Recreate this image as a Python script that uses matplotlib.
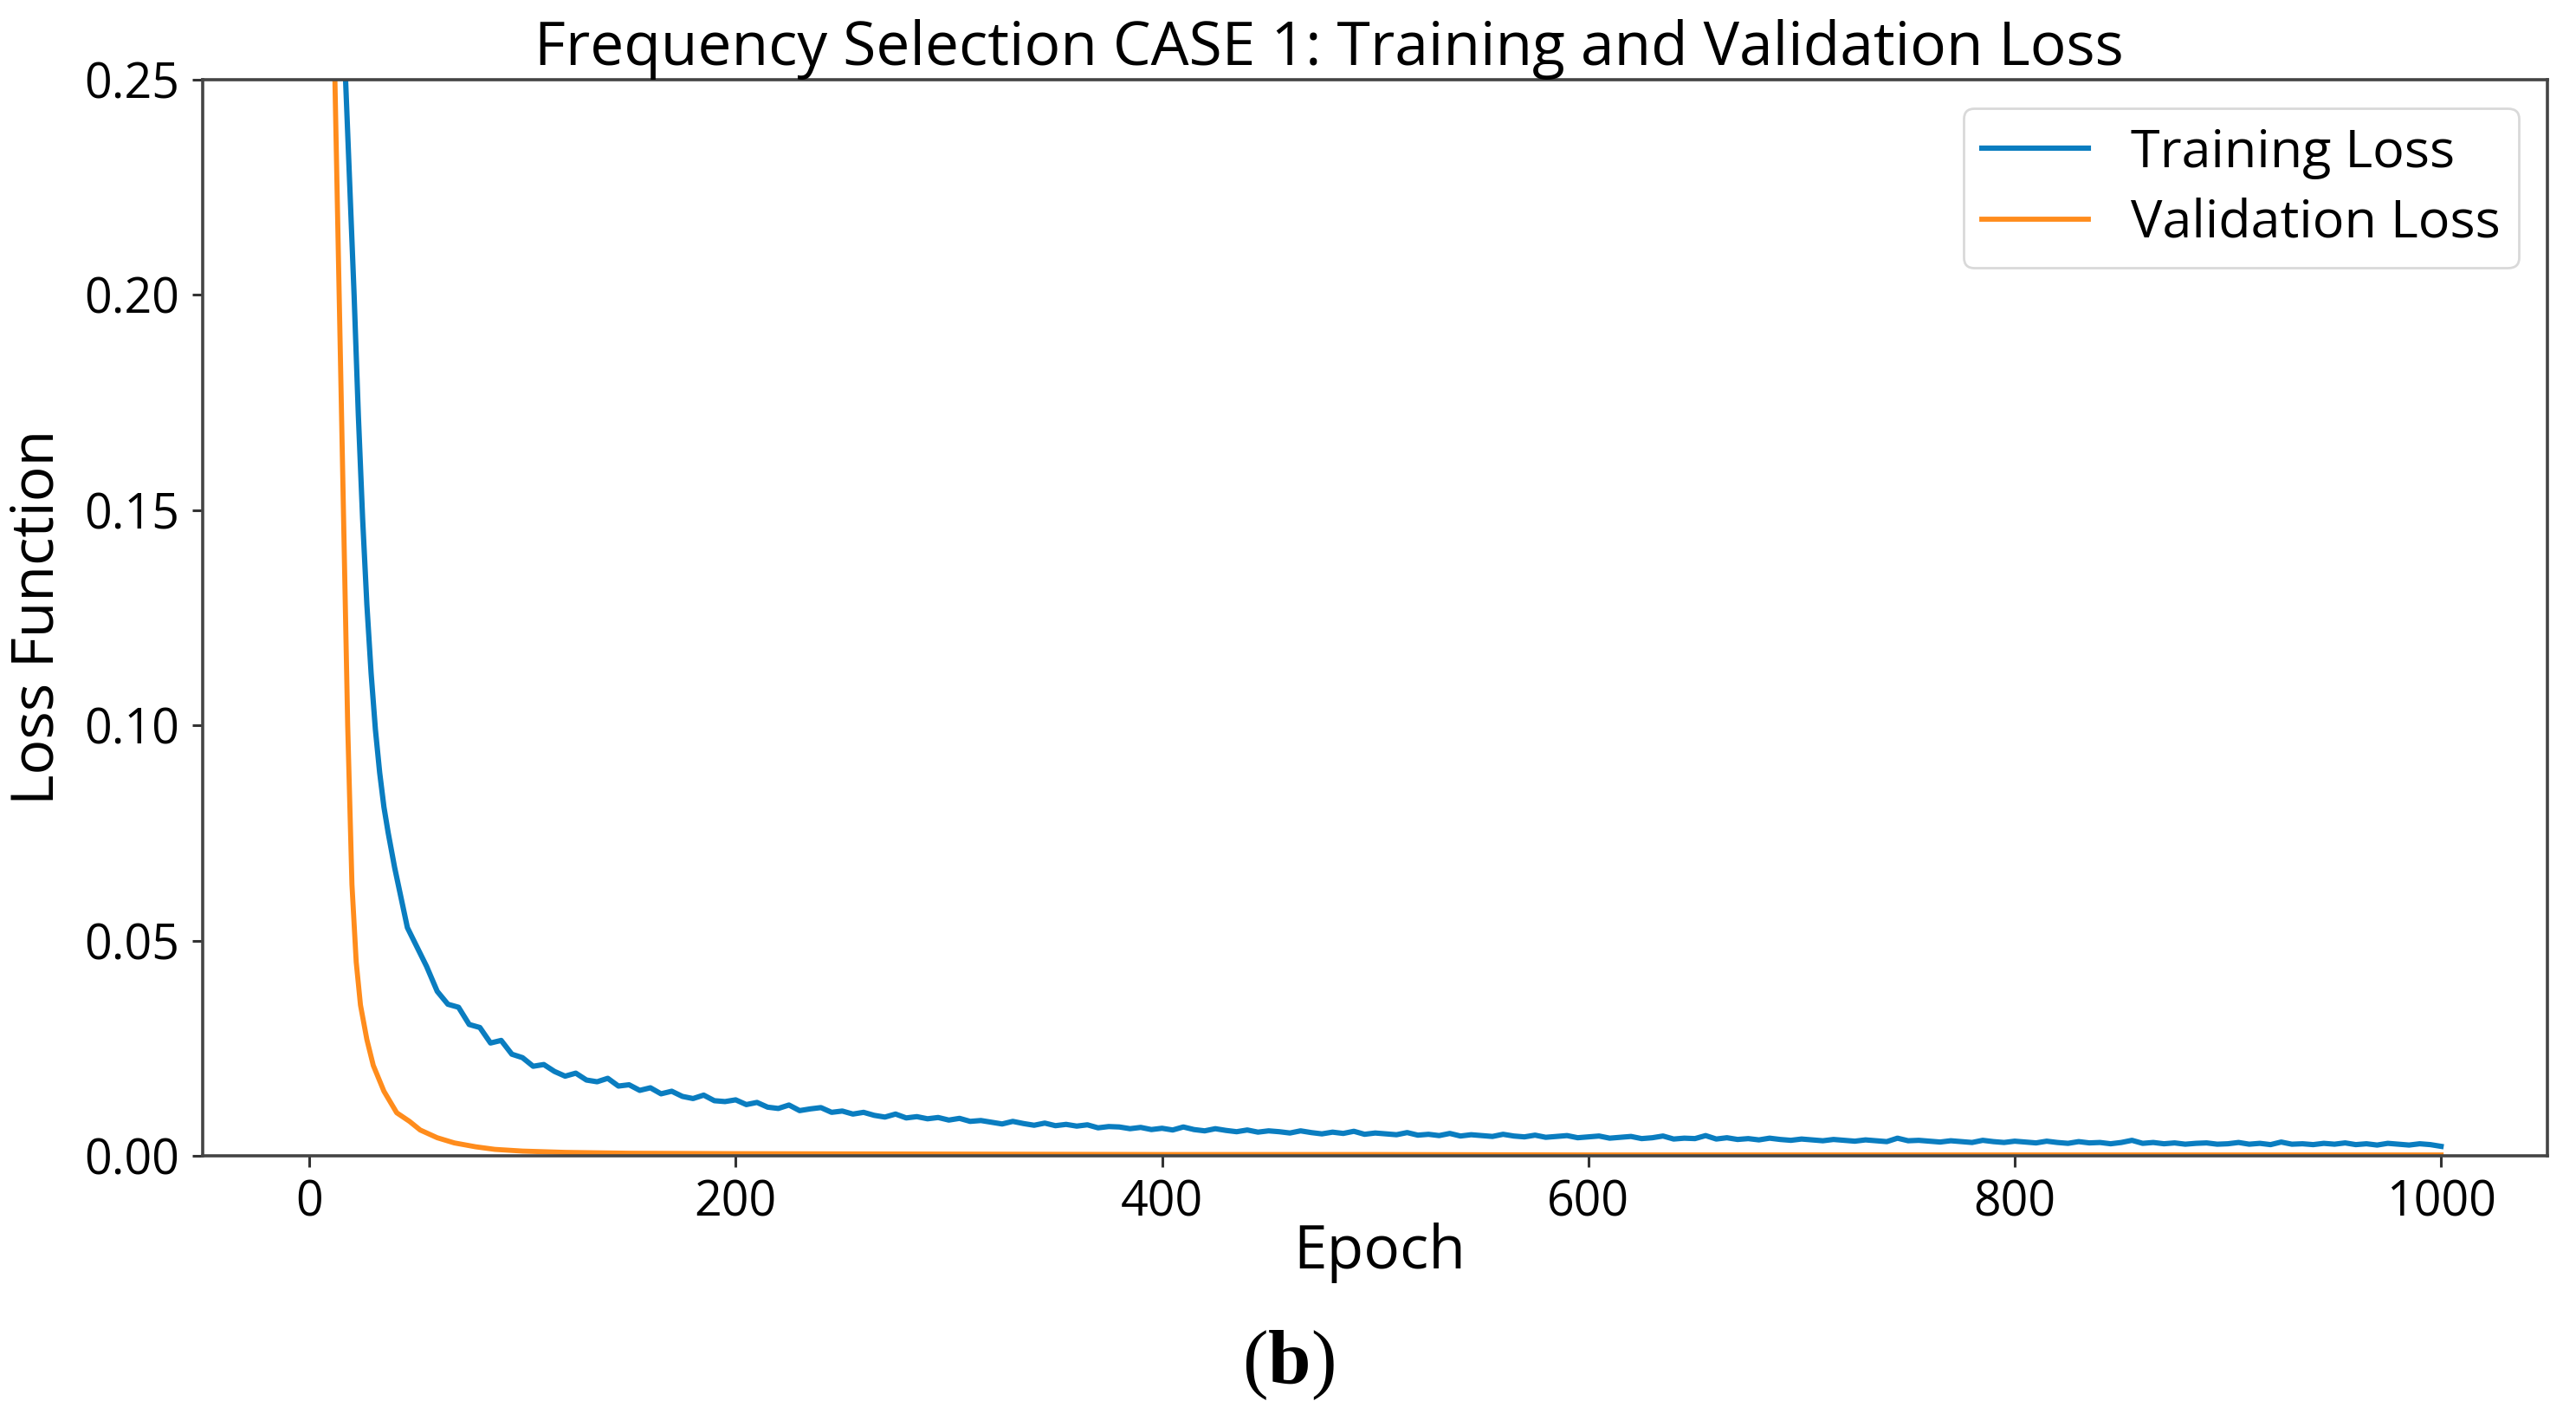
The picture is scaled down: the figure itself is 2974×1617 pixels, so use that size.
import numpy as np
import matplotlib
matplotlib.use("Agg")
import matplotlib.pyplot as plt

# ---------------- data ----------------
train_head_epochs = [0, 10, 15, 17, 19, 21, 23, 25, 27, 29, 31, 33, 35, 37, 40, 43, 46, 50]
train_head_loss = [0.95, 0.45, 0.30, 0.25, 0.225, 0.20, 0.172, 0.148, 0.128, 0.112,
                   0.099, 0.089, 0.081, 0.075, 0.067, 0.060, 0.053, 0.049]

# epochs 55, 60, ..., 1000
train_tail_loss = [
    0.0440, 0.0382, 0.0352, 0.0345, 0.0305, 0.0298, 0.0262, 0.0268, 0.0236, 0.0228,
    0.0208, 0.0212, 0.0196, 0.0185, 0.0192, 0.0176, 0.0172, 0.0180, 0.0162, 0.0165,
    0.0152, 0.0158, 0.0144, 0.0150, 0.0138, 0.0133, 0.0141, 0.0128, 0.0126, 0.0130,
    0.0119, 0.0124, 0.0113, 0.0110, 0.0118, 0.0105, 0.0109, 0.0112, 0.0101, 0.0104,
    0.0097, 0.0101, 0.0094, 0.0090, 0.0097, 0.0088, 0.0091, 0.0086, 0.0089, 0.0083,
    0.0087, 0.0080, 0.0082, 0.0078, 0.0074, 0.0080, 0.0075, 0.0071, 0.0076, 0.0070,
    0.0073, 0.0069, 0.0072, 0.0065, 0.0068, 0.0067, 0.0063, 0.0066, 0.0061, 0.0064,
    0.0060, 0.0067, 0.0061, 0.0058, 0.0063, 0.0059, 0.0056, 0.0060, 0.0055, 0.0058,
    0.0056, 0.0053, 0.0058, 0.0054, 0.0051, 0.0055, 0.0052, 0.0057, 0.0050, 0.0053,
    0.0051, 0.0049, 0.0054, 0.0048, 0.0050, 0.0047, 0.0052, 0.0046, 0.0049, 0.0047,
    0.0045, 0.0050, 0.0046, 0.0044, 0.0048, 0.0043, 0.0045, 0.0047, 0.0042, 0.0044,
    0.0046, 0.0041, 0.0043, 0.0045, 0.0040, 0.0042, 0.0046, 0.0039, 0.0041, 0.0040,
    0.0047, 0.0039, 0.0042, 0.0038, 0.0040, 0.0037, 0.0041, 0.0038, 0.0036, 0.0039,
    0.0037, 0.0035, 0.0038, 0.0036, 0.0034, 0.0037, 0.0035, 0.0033, 0.0041, 0.0035,
    0.0036, 0.0034, 0.0032, 0.0035, 0.0033, 0.0031, 0.0036, 0.0033, 0.0031, 0.0034,
    0.0032, 0.0030, 0.0034, 0.0031, 0.0029, 0.0033, 0.0030, 0.0031, 0.0028, 0.0031,
    0.0036, 0.0029, 0.0031, 0.0028, 0.0030, 0.0027, 0.0029, 0.0030, 0.0027, 0.0028,
    0.0031, 0.0027, 0.0029, 0.0026, 0.0032, 0.0027, 0.0028, 0.0026, 0.0029, 0.0027,
    0.0030, 0.0026, 0.0028, 0.0025, 0.0029, 0.0027, 0.0025, 0.0028, 0.0026, 0.0022,
]
train_tail_epochs = list(range(55, 1001, 5))

val_epochs = [0, 8, 12, 14, 16, 18, 20, 22, 24, 27, 30, 35, 41, 47, 52, 60, 68, 78, 87,
              100, 120, 150, 200, 300, 400, 500, 600, 700, 800, 900, 1000]
val_loss = [0.85, 0.40, 0.25, 0.20, 0.15, 0.10, 0.063, 0.045, 0.035, 0.027, 0.021, 0.015,
            0.010, 0.008, 0.006, 0.0042, 0.0030, 0.0021, 0.0015, 0.0011, 0.0008, 0.0006,
            0.0005, 0.0004, 0.0003, 0.0003, 0.0002, 0.0002, 0.0002, 0.0002, 0.0002]

y_ticks = [0.00, 0.05, 0.10, 0.15, 0.20, 0.25]
x_ticks = [0, 200, 400, 600, 800, 1000]

title = "Frequency Selection CASE 1: Training and Validation Loss"

# ---------------- figure ----------------
plt.rcParams['font.family'] = ['Open Sans', 'DejaVu Sans']
plt.rcParams['mathtext.fontset'] = 'custom'
plt.rcParams['mathtext.rm'] = 'Liberation Serif'
plt.rcParams['mathtext.bf'] = 'Liberation Serif:bold'

fig = plt.figure(figsize=(14.87, 8.085), dpi=200)
ax = fig.add_axes([0.0787, 0.175, 0.9103, 0.7684])

train_x = train_head_epochs + train_tail_epochs
train_y = train_head_loss + train_tail_loss

ax.plot(train_x, train_y, color='#0a7dc0', lw=2.2, label='Training Loss')
ax.plot(val_epochs, val_loss, color='#ff8c1c', lw=2.1, label='Validation Loss')

ax.set_ylim(0, 0.25)
ax.set_xlim(-50, 1050)
ax.set_yticks(y_ticks)
ax.set_yticklabels([f"{v:.2f}" for v in y_ticks])
ax.set_xticks(x_ticks)
ax.tick_params(labelsize=20, length=4.5, width=1.1, color='#333333', pad=5)
for s in ax.spines.values():
    s.set_color('#444444')
    s.set_linewidth(1.3)

ax.set_xlabel('Epoch', fontsize=25)
ax.xaxis.set_label_coords(0.502, -0.062)
ax.set_ylabel('Loss Function', fontsize=24.5)
ax.yaxis.set_label_coords(-0.058, 0.5)

leg = ax.legend(loc='upper right', fontsize=22, frameon=True, handlelength=2.0,
                borderaxespad=0.55, labelspacing=0.35, borderpad=0.35)
leg.get_frame().set_edgecolor('#d0d0d0')

fig.text(0.516, 0.965, title, fontsize=25, ha='center', va='center')
fig.text(0.5, 0.027, r'$(\mathbf{b})$', fontsize=32, ha='center', va='center')

fig.savefig('out.png', dpi=200)
